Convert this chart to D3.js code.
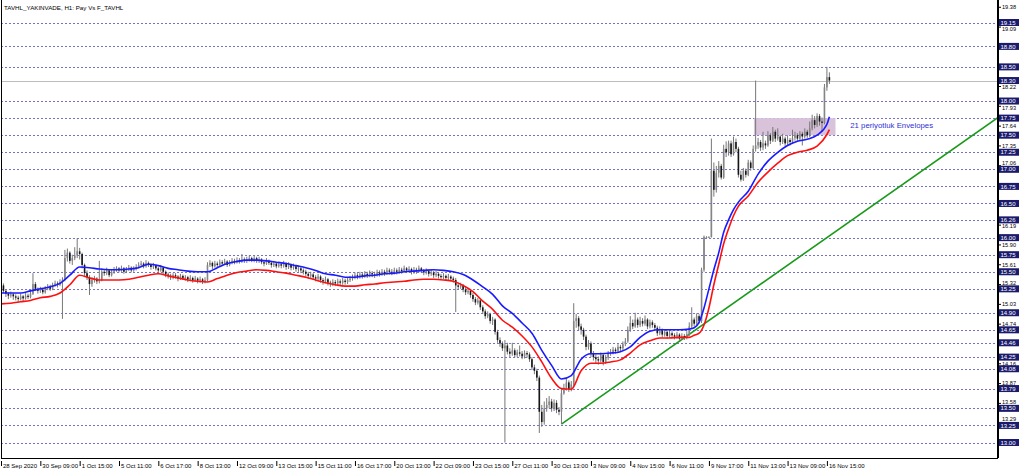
<!DOCTYPE html>
<html><head><meta charset="utf-8">
<script src="https://cdn.jsdelivr.net/npm/d3@7"></script>
<style>html,body{margin:0;padding:0;background:#fff;}svg{display:block;}</style>
</head><body>
<svg id="c" width="1024" height="476"></svg>
<script>
const title = "TAVHL_YAKINVADE, H1:  Pay Vs F_TAVHL";
const firstOpen = 15.25;
const closes = [
15.30,15.22,15.18,15.15,15.17,15.14,15.12,15.10,15.14,15.11,
15.15,15.13,15.18,15.32,15.25,15.22,15.24,15.20,15.26,15.28,
15.25,15.30,15.33,15.31,15.35,15.38,15.70,15.78,15.66,15.70,
15.74,15.80,15.76,15.60,15.48,15.42,15.32,15.38,15.40,15.36,
15.38,15.50,15.48,15.52,15.45,15.50,15.53,15.55,15.52,15.55,
15.50,15.54,15.56,15.52,15.55,15.57,15.60,15.62,15.58,15.63,
15.60,15.57,15.59,15.55,15.52,15.56,15.50,15.46,15.44,15.42,
15.45,15.43,15.40,15.44,15.41,15.42,15.39,15.41,15.38,15.40,
15.37,15.39,15.36,15.38,15.60,15.63,15.58,15.62,15.60,15.64,
15.62,15.65,15.60,15.63,15.66,15.64,15.67,15.65,15.68,15.66,
15.68,15.70,15.67,15.70,15.66,15.68,15.64,15.62,15.66,15.63,
15.60,15.62,15.58,15.61,15.59,15.62,15.57,15.60,15.56,15.58,
15.54,15.55,15.52,15.50,15.47,15.44,15.46,15.42,15.40,15.43,
15.38,15.36,15.39,15.34,15.32,15.35,15.33,15.36,15.34,15.37,
15.35,15.38,15.40,15.42,15.45,15.43,15.46,15.44,15.47,15.45,
15.48,15.46,15.45,15.49,15.47,15.50,15.48,15.52,15.50,15.49,
15.52,15.50,15.53,15.51,15.55,15.52,15.54,15.50,15.53,15.51,
15.55,15.52,15.49,15.51,15.47,15.49,15.45,15.47,15.44,15.42,
15.44,15.41,15.43,15.40,15.38,15.30,15.28,15.30,15.24,15.20,
15.22,15.16,15.10,15.05,15.08,14.98,14.92,14.85,14.88,14.78,
14.80,14.62,14.50,14.45,14.38,14.42,14.33,14.30,14.35,14.28,
14.32,14.30,14.26,14.31,14.29,14.22,14.10,14.05,13.95,13.45,
13.30,13.50,13.55,13.60,13.50,13.58,13.48,13.45,13.72,13.80,
13.88,13.78,13.85,14.78,14.82,14.70,14.65,14.55,14.40,14.45,
14.30,14.25,14.22,14.20,14.28,14.18,14.24,14.30,14.32,14.36,
14.34,14.40,14.38,14.44,14.48,14.65,14.75,14.70,14.80,14.72,
14.78,14.74,14.80,14.70,14.76,14.72,14.68,14.60,14.64,14.58,
14.62,14.56,14.60,14.57,14.55,14.58,14.52,14.56,14.54,14.58,
14.70,14.80,14.74,14.85,14.78,15.53,16.01,16.01,16.01,16.98,
16.70,16.95,17.05,16.88,17.30,17.25,17.38,17.22,17.40,17.30,
16.92,16.85,16.98,16.92,17.10,17.02,17.30,17.35,17.40,17.32,
17.38,17.35,17.50,17.42,17.55,17.45,17.48,17.40,17.45,17.38,
17.43,17.40,17.46,17.50,17.45,17.52,17.48,17.55,17.50,17.60,
17.72,17.65,17.78,17.70,17.68,18.20,18.35,18.30];
const highs = [
15.38,15.33,15.24,15.20,15.21,15.19,15.17,15.15,15.18,15.16,
15.19,15.18,15.22,15.48,15.35,15.27,15.28,15.26,15.29,15.32,
15.31,15.34,15.37,15.36,15.39,15.42,15.82,15.84,15.80,15.75,
15.86,15.99,15.85,15.78,15.62,15.52,15.45,15.42,15.44,15.42,
15.66,15.55,15.54,15.56,15.54,15.53,15.57,15.58,15.57,15.59,
15.57,15.57,15.60,15.58,15.58,15.61,15.64,15.66,15.64,15.67,
15.65,15.62,15.63,15.61,15.57,15.60,15.58,15.52,15.49,15.47,
15.48,15.48,15.45,15.47,15.46,15.45,15.44,15.45,15.43,15.44,
15.42,15.43,15.41,15.42,15.64,15.67,15.65,15.66,15.65,15.68,
15.67,15.69,15.67,15.67,15.70,15.69,15.71,15.70,15.76,15.71,
15.72,15.74,15.72,15.74,15.72,15.72,15.70,15.67,15.70,15.68,
15.65,15.66,15.64,15.65,15.64,15.66,15.64,15.64,15.62,15.62,
15.60,15.59,15.58,15.55,15.53,15.50,15.50,15.48,15.45,15.47,
15.45,15.41,15.43,15.41,15.37,15.39,15.38,15.40,15.39,15.41,
15.40,15.42,15.44,15.46,15.49,15.48,15.50,15.49,15.51,15.50,
15.52,15.51,15.50,15.53,15.52,15.54,15.53,15.56,15.55,15.54,
15.56,15.55,15.57,15.56,15.59,15.57,15.58,15.56,15.57,15.56,
15.59,15.57,15.54,15.55,15.53,15.53,15.51,15.51,15.49,15.47,
15.48,15.46,15.47,15.45,15.43,15.41,15.34,15.34,15.32,15.27,
15.26,15.24,15.19,15.13,15.12,15.10,15.01,14.95,14.92,14.90,
14.84,14.82,14.65,14.54,14.48,14.50,14.46,14.38,14.46,14.38,
14.36,14.42,14.34,14.35,14.34,14.32,14.25,14.14,14.08,13.98,
13.55,13.60,13.65,13.68,13.64,13.63,13.62,13.52,13.78,13.86,
13.93,13.91,13.90,15.04,14.88,14.85,14.74,14.68,14.58,14.50,
14.48,14.34,14.29,14.26,14.32,14.30,14.28,14.34,14.37,14.40,
14.39,14.44,14.43,14.48,14.53,14.70,14.85,14.80,14.90,14.83,
14.84,14.82,14.86,14.82,14.80,14.79,14.75,14.71,14.70,14.67,
14.66,14.64,14.64,14.63,14.60,14.62,14.60,14.60,14.59,14.63,
14.76,14.98,14.83,14.89,14.88,15.56,16.03,16.02,16.02,17.45,
17.10,17.05,17.12,17.08,17.36,17.41,17.42,17.42,17.48,17.45,
17.33,16.98,17.02,17.01,17.14,17.13,17.35,18.30,17.46,17.43,
17.55,17.42,17.56,17.53,17.62,17.58,17.60,17.50,17.52,17.48,
17.50,17.46,17.58,17.55,17.53,17.56,17.55,17.60,17.58,17.70,
17.80,17.78,17.82,17.81,17.76,18.25,18.50,18.42];
const lows = [
15.20,15.19,15.13,15.10,15.12,15.09,15.08,15.06,15.08,15.07,
15.09,15.10,15.11,15.16,15.22,15.18,15.19,15.17,15.18,15.23,
15.22,15.23,15.28,15.27,15.29,14.81,15.36,15.65,15.62,15.60,
15.67,15.70,15.68,15.55,15.44,15.38,15.16,15.28,15.34,15.32,
15.33,15.36,15.44,15.45,15.42,15.43,15.47,15.50,15.49,15.50,
15.47,15.48,15.51,15.49,15.50,15.52,15.55,15.57,15.55,15.56,
15.57,15.53,15.54,15.52,15.48,15.50,15.47,15.42,15.40,15.38,
15.39,15.40,15.36,15.38,15.38,15.37,15.35,15.36,15.34,15.35,
15.33,15.34,15.32,15.33,15.36,15.57,15.54,15.56,15.57,15.58,
15.59,15.60,15.57,15.58,15.61,15.61,15.62,15.62,15.63,15.63,
15.63,15.65,15.64,15.64,15.63,15.63,15.61,15.58,15.60,15.60,
15.56,15.57,15.55,15.56,15.55,15.56,15.53,15.54,15.52,15.53,
15.50,15.50,15.48,15.46,15.43,15.40,15.41,15.38,15.36,15.37,
15.34,15.31,15.33,15.30,15.28,15.29,15.29,15.30,15.30,15.31,
15.31,15.32,15.35,15.37,15.39,15.39,15.40,15.40,15.41,15.41,
15.42,15.42,15.41,15.43,15.43,15.44,15.44,15.46,15.46,15.45,
15.46,15.46,15.47,15.47,15.49,15.48,15.49,15.46,15.47,15.47,
15.49,15.48,15.45,15.46,15.43,15.44,15.41,15.42,15.40,15.38,
15.39,15.37,15.38,15.36,15.34,14.91,15.24,15.25,15.20,15.16,
15.17,15.12,15.06,15.01,15.02,14.94,14.88,14.81,14.82,14.74,
14.72,14.58,14.46,14.40,14.34,13.00,14.29,14.25,14.27,14.24,
14.25,14.26,14.22,14.23,14.24,14.18,14.06,14.00,13.90,13.14,
13.23,13.26,13.45,13.50,13.45,13.46,13.43,13.40,13.27,13.70,
13.76,13.74,13.75,13.82,14.68,14.64,14.58,14.50,14.35,14.36,
14.25,14.20,14.16,14.14,14.17,14.13,14.15,14.21,14.27,14.29,
14.30,14.31,14.34,14.35,14.41,14.46,14.62,14.66,14.68,14.68,
14.69,14.70,14.71,14.66,14.67,14.68,14.64,14.56,14.57,14.54,
14.55,14.52,14.53,14.53,14.51,14.52,14.49,14.50,14.50,14.51,
14.56,14.67,14.70,14.72,14.74,14.75,15.50,16.00,16.00,16.00,
16.60,16.66,16.88,16.85,16.86,17.18,17.20,17.18,17.20,17.25,
16.88,16.82,16.83,16.88,16.90,16.98,17.00,17.26,17.30,17.27,
17.28,17.30,17.33,17.37,17.40,17.40,17.42,17.35,17.37,17.33,
17.35,17.35,17.37,17.42,17.40,17.42,17.35,17.45,17.46,17.47,
17.57,17.60,17.62,17.64,17.55,17.66,18.15,18.25];

const envIdx = [0,4,8,12,16,20,24,28,32,36,40,44,48,52,56,60,64,68,72,76,80,84,88,92,96,100,104,108,112,116,120,124,128,132,136,140,144,148,152,156,160,164,168,172,176,180,184,188,192,196,200,204,208,212,216,220,224,228,232,236,240,244,248,252,256,260,264,268,272,276,280,282,284,286,288,290,292,294,296,298,300,304,308,312,316,320,324,328,332,336,337];
const envUpper = [15.19,15.19,15.19,15.22,15.25,15.28,15.33,15.45,15.57,15.56,15.54,15.53,15.53,15.54,15.56,15.61,15.59,15.55,15.53,15.51,15.50,15.50,15.56,15.62,15.65,15.67,15.67,15.66,15.64,15.62,15.59,15.56,15.52,15.47,15.45,15.42,15.42,15.44,15.45,15.47,15.48,15.50,15.51,15.52,15.53,15.52,15.50,15.46,15.38,15.28,15.17,15.00,14.89,14.75,14.60,14.35,14.13,13.93,13.98,14.22,14.30,14.30,14.31,14.33,14.40,14.54,14.63,14.65,14.65,14.65,14.66,14.68,14.76,14.97,15.25,15.53,15.78,16.08,16.26,16.41,16.52,16.68,16.93,17.12,17.25,17.35,17.41,17.44,17.50,17.66,17.77];
const envLower = [15.03,15.04,15.06,15.08,15.12,15.14,15.19,15.31,15.45,15.41,15.38,15.38,15.38,15.39,15.42,15.45,15.47,15.44,15.41,15.38,15.36,15.35,15.40,15.45,15.49,15.51,15.53,15.52,15.50,15.48,15.45,15.42,15.38,15.34,15.31,15.29,15.29,15.31,15.32,15.34,15.35,15.36,15.38,15.39,15.39,15.38,15.36,15.30,15.21,15.07,14.95,14.79,14.69,14.56,14.40,14.18,13.94,13.79,13.78,14.05,14.16,14.16,14.18,14.21,14.31,14.43,14.49,14.53,14.53,14.54,14.54,14.57,14.60,14.72,14.97,15.31,15.61,15.91,16.13,16.32,16.46,16.61,16.81,16.96,17.09,17.20,17.25,17.28,17.34,17.51,17.58];

const levelLines = [19.15,18.80,18.50,18.00,17.75,17.50,17.25,17.00,16.75,16.50,16.26,16.00,15.75,15.50,15.25,14.90,14.65,14.46,14.25,14.08,13.79,13.50,13.25,13.00];
const bidPrice = 18.30;
const priceTicks = [19.38,19.09,18.22,17.93,17.64,17.35,17.06,16.19,15.90,15.61,15.32,15.03,14.74,14.16,13.87,13.58,13.29];
const timeTickBars = [0,16,32,48,64,80,96,112,128,144,160,176,192,208,224,240,256,272,288,304,320,336];
const timeTickLabels = ["28 Sep 2020","30 Sep 09:00","1 Oct 15:00","5 Oct 11:00","6 Oct 17:00","8 Oct 13:00","12 Oct 09:00","13 Oct 15:00","15 Oct 11:00","16 Oct 17:00","20 Oct 13:00","22 Oct 09:00","23 Oct 15:00","27 Oct 11:00","30 Oct 13:00","3 Nov 09:00","4 Nov 15:00","6 Nov 11:00","9 Nov 17:00","11 Nov 13:00","13 Nov 09:00","16 Nov 15:00"];
const trendBars = [228, 406];
const trendPrices = [13.27, 17.77];
const boxBars = [306.3, 339.5];
const boxPrices = [17.50, 17.75];
const envLabel = "21 periyotluk Envelopes";
const envLabelBar = 345.5;
const envLabelPrice = 17.64;

const plotL = 1, plotR = 998, plotB = 458;
const svg = d3.select("#c");
const x = d3.scaleLinear().domain([0, 405.6]).range([plotL, plotR]);
const y = d3.scaleLinear().domain([13.00, 19.15]).range([442.5, 22.5]);
const FONT = "'Liberation Sans', Arial, sans-serif";
const BOX_H = 7, TICK_FS = 5.6;

svg.append("defs").append("clipPath").attr("id","clip")
  .append("rect").attr("x", plotL).attr("y", 0).attr("width", plotR - plotL).attr("height", plotB);

const g = svg.append("g").attr("clip-path","url(#clip)");

g.selectAll("line.lvl").data(levelLines).join("line").attr("class","lvl")
  .attr("x1", plotL).attr("x2", plotR)
  .attr("y1", d => Math.round(y(d)) + 0.5).attr("y2", d => Math.round(y(d)) + 0.5)
  .attr("stroke", "#7474c2").attr("stroke-width", 1).attr("stroke-dasharray", "2,2");
g.append("line").attr("x1", plotL).attr("x2", plotR)
  .attr("y1", Math.round(y(bidPrice)) + 0.5).attr("y2", Math.round(y(bidPrice)) + 0.5)
  .attr("stroke", "#bdbdbd").attr("stroke-width", 1);

g.append("rect")
  .attr("x", x(boxBars[0])).attr("width", x(boxBars[1]) - x(boxBars[0]))
  .attr("y", y(boxPrices[1])).attr("height", y(boxPrices[0]) - y(boxPrices[1]))
  .attr("fill", "#d8c3da");

g.append("line")
  .attr("x1", x(trendBars[0])).attr("y1", y(trendPrices[0]))
  .attr("x2", x(trendBars[1])).attr("y2", y(trendPrices[1]))
  .attr("stroke", "#1a9a1a").attr("stroke-width", 1.6);

const bars = closes.map((c, i) => ({i, o: i === 0 ? firstOpen : closes[i-1], h: highs[i], l: lows[i], c}));
const cg = g.append("g");
cg.selectAll("line.w").data(bars).join("line").attr("class","w")
  .attr("x1", d => x(d.i)).attr("x2", d => x(d.i))
  .attr("y1", d => y(d.h)).attr("y2", d => y(d.l))
  .attr("stroke", "#777").attr("stroke-width", 1);
cg.selectAll("rect.b").data(bars).join("rect").attr("class","b")
  .attr("x", d => x(d.i) - 0.8).attr("width", 1.6)
  .attr("y", d => y(Math.max(d.o, d.c)))
  .attr("height", d => Math.max(1, Math.abs(y(d.o) - y(d.c))))
  .attr("fill", d => d.c >= d.o ? "#858585" : "#161616");

const envLine = arr => d3.line().x((d, k) => x(envIdx[k])).y(d => y(d)).curve(d3.curveMonotoneX)(arr);
g.append("path").attr("d", envLine(envLower)).attr("fill","none").attr("stroke","#ff1010").attr("stroke-width",1.6);
g.append("path").attr("d", envLine(envUpper)).attr("fill","none").attr("stroke","#1a1aff").attr("stroke-width",1.6);

svg.append("text").attr("x", x(envLabelBar)).attr("y", y(envLabelPrice)).attr("dy","0.35em")
  .attr("font-family", FONT).attr("font-size", 7.8).attr("fill", "#2f2fd8").text(envLabel);

svg.append("text").attr("x", 4).attr("y", 8).attr("dy","0.35em")
  .attr("font-family", FONT).attr("font-size", 6.2).attr("fill", "#000").text(title);

svg.append("line").attr("x1", plotL + 0.5).attr("x2", plotL + 0.5).attr("y1", 0).attr("y2", plotB)
  .attr("stroke", "#000").attr("stroke-width", 1);

const boxLevels = levelLines.concat([bidPrice]);
// nudge scale labels that would collide with a level box
function labelShift(v) {
  const ty = y(v), half = TICK_FS * 0.45 + 0.3;
  for (const b of boxLevels) {
    const by = y(b), top = by - BOX_H / 2, bot = by + BOX_H / 2;
    if (ty + half > top && ty - half < bot) {
      return ty < by ? (top - half) - ty : (bot + half) - ty;
    }
  }
  return 0;
}

const ay = svg.append("g").attr("transform", `translate(${plotR},0)`)
  .call(d3.axisRight(y).tickValues(priceTicks).tickSize(3).tickPadding(1).tickFormat(d3.format(".2f")));
ay.select(".domain").attr("stroke", "#000").attr("stroke-width", 2).attr("d", `M0,0V${plotB}`);
ay.selectAll(".tick text").attr("font-family", FONT).attr("font-size", TICK_FS).attr("fill", "#000")
  .attr("y", d => labelShift(d));
ay.selectAll(".tick line").attr("stroke", "#000");

const bx = svg.append("g");
bx.selectAll("rect").data(boxLevels).join("rect")
  .attr("x", plotR + 1).attr("width", 20)
  .attr("y", d => y(d) - BOX_H / 2).attr("height", BOX_H)
  .attr("fill", "#1b1b6e");
bx.selectAll("text").data(boxLevels).join("text")
  .attr("x", plotR + 2.5).attr("y", d => y(d)).attr("dy","0.35em")
  .attr("font-family", FONT).attr("font-size", 6).attr("fill", "#fff")
  .text(d => d3.format(".2f")(d));

const ax = svg.append("g").attr("transform", `translate(0,${plotB})`)
  .call(d3.axisBottom(x).tickValues(timeTickBars).tickSize(5).tickFormat((d, k) => timeTickLabels[k]));
ax.select(".domain").attr("stroke", "#000").attr("d", `M${plotL},0.5H${plotR}`);
ax.selectAll(".tick line").attr("stroke", "#000").attr("y1", 3).attr("y2", 8);
ax.selectAll(".tick text").attr("font-family", FONT).attr("font-size", 6)
  .attr("fill", "#000").attr("text-anchor", "start").attr("dx", 1.5).attr("y", 6).attr("dy", "0.71em");
</script>
</body></html>
